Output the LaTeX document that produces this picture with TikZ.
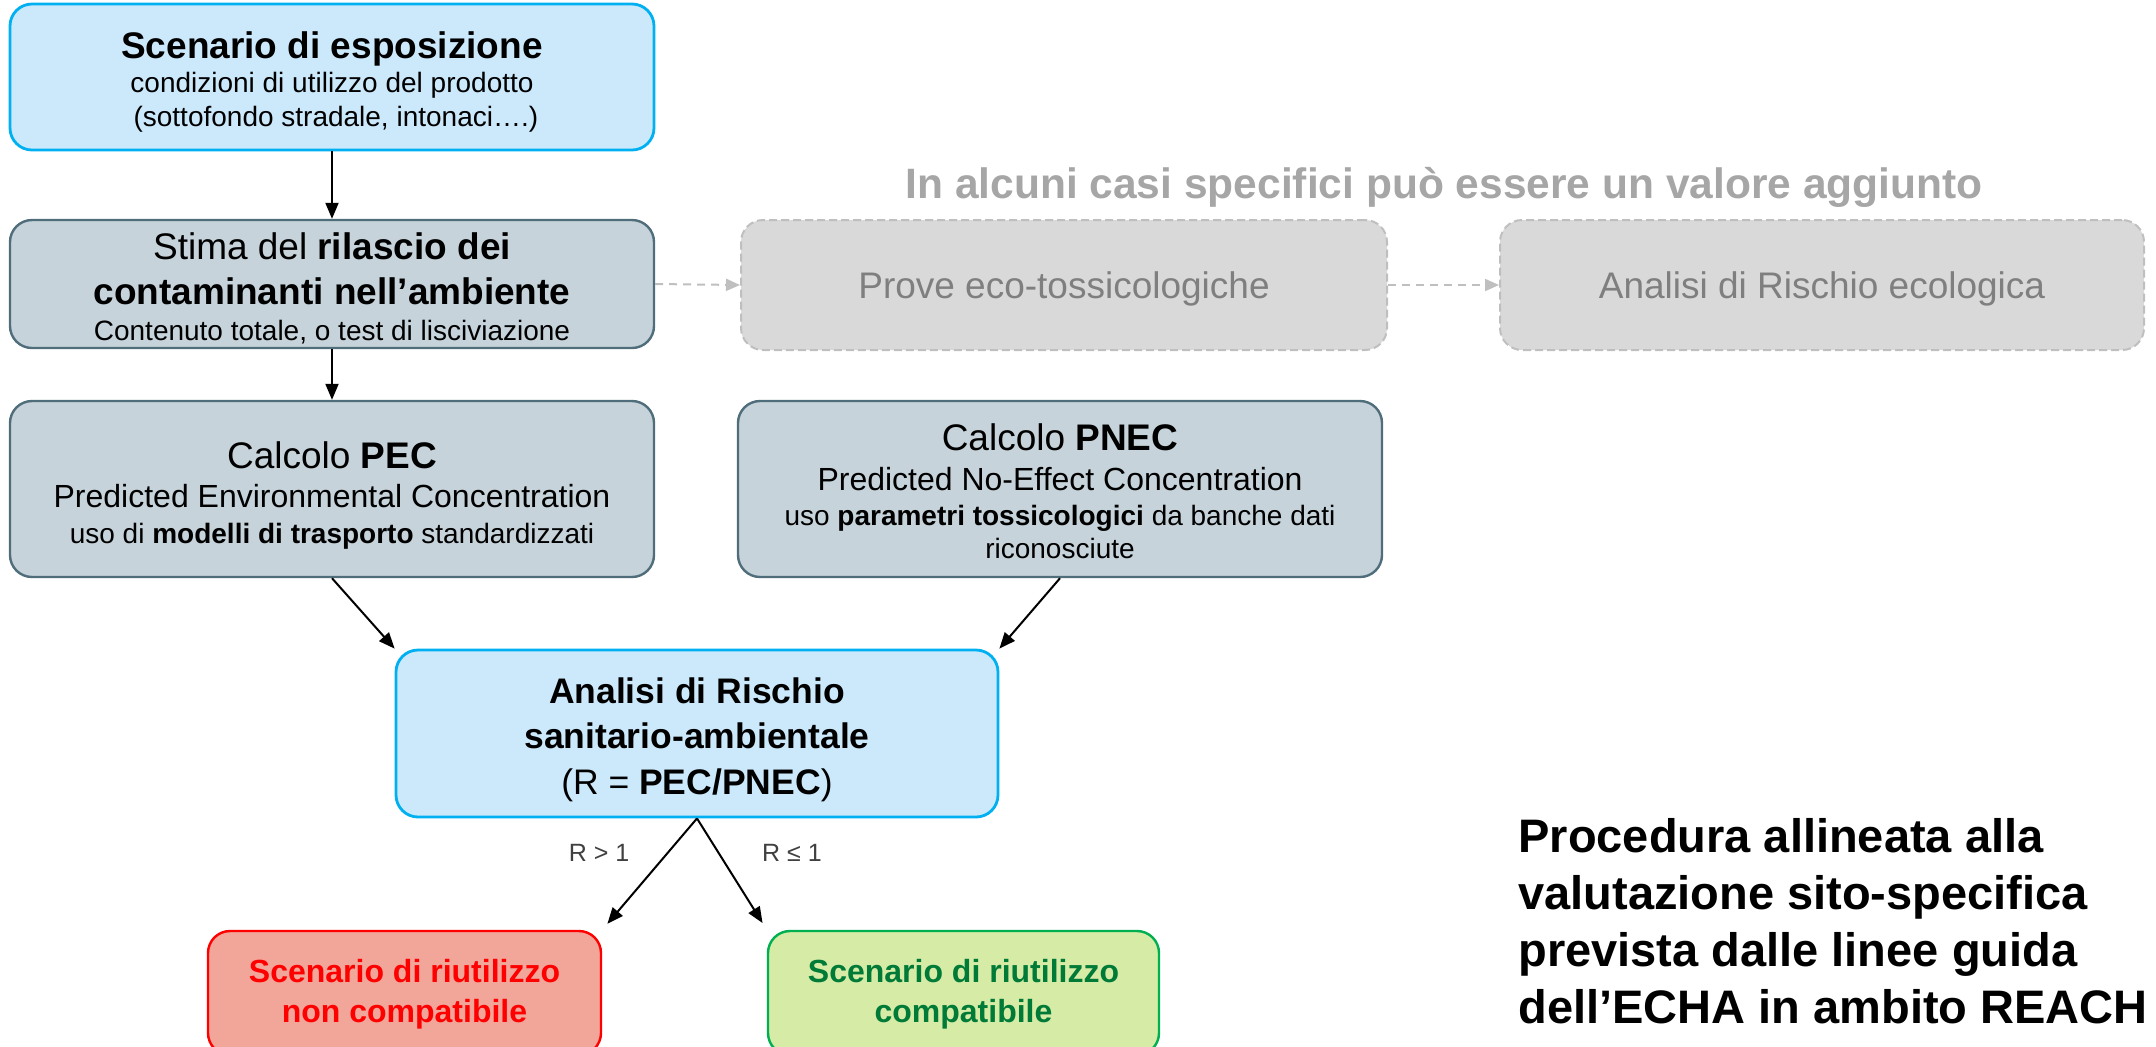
\documentclass[tikz,border=0pt]{standalone}
\usepackage{fontspec}
\setmainfont{Liberation Sans}
\usetikzlibrary{arrows.meta}

\definecolor{bluefill}{HTML}{CCE9FC}
\definecolor{blueline}{HTML}{00B0F0}
\definecolor{slatefill}{HTML}{C6D3DA}
\definecolor{slateline}{HTML}{4F6D7A}
\definecolor{ghostfill}{HTML}{D9D9D9}
\definecolor{ghostline}{HTML}{BFBFBF}
\definecolor{ghosttext}{HTML}{7F7F7F}
\definecolor{ghosttitle}{HTML}{A6A6A6}
\definecolor{redfill}{HTML}{F2A599}
\definecolor{redline}{HTML}{FF0000}
\definecolor{greenfill}{HTML}{D6EBA5}
\definecolor{greenline}{HTML}{00B050}
\definecolor{greentext}{HTML}{007A37}
\definecolor{labeltext}{HTML}{404040}

% font sizes: headings, subtitles, details
\newcommand\szA{\fontsize{18.5}{22}\selectfont}
\newcommand\szB{\fontsize{16}{19}\selectfont}
\newcommand\szC{\fontsize{14}{17}\selectfont}

\begin{document}
% one unit = one pixel of a 2156 x 1046 canvas, y pointing down;
% "text height" fixes where the last baseline of each box sits
\begin{tikzpicture}[x=0.5pt,y=-0.5pt,
  box/.style={rounded corners=11pt, align=center, inner sep=0pt, text depth=0pt},
  bluebox/.style={box, draw=blueline, fill=bluefill, line width=1.4pt},
  slatebox/.style={box, draw=slateline, fill=slatefill, line width=1.2pt},
  ghostbox/.style={box, draw=ghostline, fill=ghostfill, line width=1pt,
    dash pattern=on 4pt off 2pt, text=ghosttext, font=\szA,
    minimum height=65pt, text height=13pt},
  redbox/.style={box, draw=redline, fill=redfill, line width=1.2pt,
    text=redline, font=\fontsize{16}{20}\selectfont\bfseries,
    minimum height=62pt, text height=29pt},
  greenbox/.style={box, draw=greenline, fill=greenfill, line width=1.2pt,
    text=greentext, font=\fontsize{16}{20}\selectfont\bfseries,
    minimum height=62pt, text height=29pt},
  flow/.style={-{Triangle[length=8pt,width=6.5pt]}, line width=1pt, black},
  ghostflow/.style={-{Triangle[length=7pt,width=6pt]}, ghostline, line width=1pt,
    dash pattern=on 4pt off 3pt},
  cond/.style={text=labeltext, font=\fontsize{12.5}{15}\selectfont},
]
\useasboundingbox (0,0) rectangle (2156,1046);

% main chain
\node[bluebox, minimum width=322pt, minimum height=73pt, text height=49pt,
  font=\szC] (scen) at (332,77)
  {{\szA\bfseries Scenario di esposizione}\\
   condizioni di utilizzo del prodotto\\
   \ (sottofondo stradale, intonaci….)};

\node[slatebox, minimum width=322pt, minimum height=64pt, text height=56.5pt,
  font=\fontsize{18.5}{22.5}\selectfont] (rel) at (332,284)
  {Stima del \textbf{rilascio dei}\\
   \textbf{contaminanti nell’ambiente}\\[-4.5pt]
   \szC Contenuto totale, o test di lisciviazione};

\node[slatebox, minimum width=322pt, minimum height=88pt, text height=54.5pt,
  font=\fontsize{16}{19.8}\selectfont] (pec) at (332,489)
  {\szA Calcolo \textbf{PEC}\\
   Predicted Environmental Concentration\\[-2pt]
   \szC uso di \textbf{modelli di trasporto} standardizzati};

\node[slatebox, minimum width=322pt, minimum height=88pt, text height=69pt,
  font=\fontsize{14}{16.5}\selectfont] (pnec) at (1060,489)
  {\szA Calcolo \textbf{PNEC}\\[3.5pt]
   \szB Predicted No-Effect Concentration\\[1pt]
   uso \textbf{parametri tossicologici} da banche dati\\
   riconosciute};

\node[bluebox, minimum width=301pt, minimum height=83.5pt, text height=60.5pt,
  font=\fontsize{17.75}{22.75}\selectfont] (risk) at (697,733.5)
  {\textbf{Analisi di Rischio}\\
   \textbf{sanitario-ambientale}\\
   (R = \textbf{PEC/PNEC})};

\node[redbox, minimum width=196.5pt] (nok) at (404.5,993)
  {Scenario di riutilizzo\\non compatibile};
\node[greenbox, minimum width=195.5pt] (ok) at (963.5,993)
  {Scenario di riutilizzo\\compatibile};

% optional ecological branch
\node[anchor=base, inner sep=0pt, text=ghosttitle,
  font=\fontsize{21.25}{25}\selectfont\bfseries] (opt) at (1444,198)
  {In alcuni casi specifici può essere un valore aggiunto};
\node[ghostbox, minimum width=323pt] (eco) at (1064,285)
  {Prove eco-tossicologiche};
\node[ghostbox, minimum width=322pt] (era) at (1822,285)
  {Analisi di Rischio ecologica};

% side note (base anchor sits on the last line)
\node[anchor=base west, align=left, inner sep=0pt,
  font=\fontsize{23.5}{28.35}\selectfont\bfseries]
  (note) at (1518,1023)
  {Procedura allineata alla\\valutazione sito-specifica\\prevista dalle linee guida\\dell’ECHA in ambito REACH};

% connectors
\draw[flow] (scen.south) -- (rel.north);
\draw[flow] (rel.south) -- (pec.north);
\draw[flow] (pec.south) -- (risk.north west);
\draw[flow] (pnec.south) -- (risk.north east);
\draw[flow, shorten >=4pt] (risk.south) -- (nok.north east);
\draw[flow, shorten >=4pt] (risk.south) -- (ok.north west);
\draw[ghostflow] (rel.east) -- (eco.west);
\draw[ghostflow] (eco.east) -- (era.west);

% branch conditions
\node[cond] (gt) at (599,853) {R > 1};
\node[cond] (le) at (792,853) {R ≤ 1};
\end{tikzpicture}
\end{document}
